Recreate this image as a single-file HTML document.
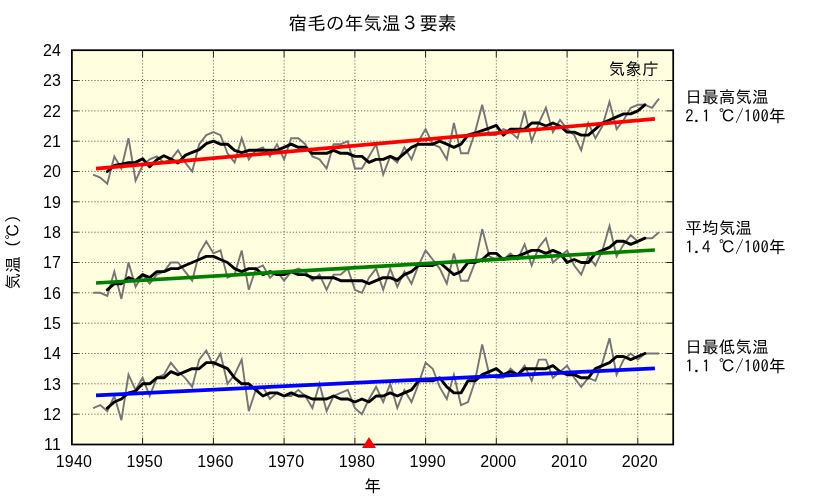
<!DOCTYPE html>
<html lang="ja"><head><meta charset="utf-8"><title>宿毛の年気温３要素</title>
<style>html,body{margin:0;padding:0;background:#fff}svg{display:block}.num{font-family:"Liberation Sans",sans-serif;font-size:16px;letter-spacing:0.15px;fill:#000}.jp{font-family:"Liberation Sans","IPAGothic","Noto Sans CJK JP",sans-serif;font-size:16.7px;fill:#000}.lg{font-family:"IPAGothic","Liberation Mono","Noto Sans CJK JP",monospace;font-size:16.7px;fill:#000}</style></head><body>
<svg width="833" height="498" viewBox="0 0 833 498">
<rect width="833" height="498" fill="#fff"/>
<rect x="71.9" y="50.2" width="601.3" height="394.3" fill="#ffffe0"/>
<path d="M78.9 414.2H666.2M78.9 383.8H666.2M78.9 353.5H666.2M78.9 323.2H666.2M78.9 292.8H666.2M78.9 262.5H666.2M78.9 232.2H666.2M78.9 201.8H666.2M78.9 171.5H666.2M78.9 141.2H666.2M78.9 110.9H666.2M78.9 80.5H666.2M142.6 57.2V437.5M213.4 57.2V437.5M284.1 57.2V437.5M354.9 57.2V437.5M425.6 57.2V437.5M496.3 57.2V437.5M567.1 57.2V437.5M637.8 57.2V437.5" stroke="#000" stroke-width="0.8" stroke-dasharray="1.1 2" fill="none" opacity="0.8"/>
<path d="M71.9 414.2h6.8M673.2 414.2h-6.8M71.9 383.8h6.8M673.2 383.8h-6.8M71.9 353.5h6.8M673.2 353.5h-6.8M71.9 323.2h6.8M673.2 323.2h-6.8M71.9 292.8h6.8M673.2 292.8h-6.8M71.9 262.5h6.8M673.2 262.5h-6.8M71.9 232.2h6.8M673.2 232.2h-6.8M71.9 201.8h6.8M673.2 201.8h-6.8M71.9 171.5h6.8M673.2 171.5h-6.8M71.9 141.2h6.8M673.2 141.2h-6.8M71.9 110.9h6.8M673.2 110.9h-6.8M71.9 80.5h6.8M673.2 80.5h-6.8M142.6 50.2v6.8M142.6 444.5v-6.8M213.4 50.2v6.8M213.4 444.5v-6.8M284.1 50.2v6.8M284.1 444.5v-6.8M354.9 50.2v6.8M354.9 444.5v-6.8M425.6 50.2v6.8M425.6 444.5v-6.8M496.3 50.2v6.8M496.3 444.5v-6.8M567.1 50.2v6.8M567.1 444.5v-6.8M637.8 50.2v6.8M637.8 444.5v-6.8" stroke="#000" stroke-width="0.9" fill="none"/>
<polyline points="93.1,174.6 100.2,177.6 107.3,183.7 114.3,156.4 121.4,168.5 128.5,138.2 135.6,180.6 142.6,165.5 149.7,159.4 156.8,156.4 163.9,162.4 170.9,159.4 178.0,150.3 185.1,162.4 192.2,171.5 199.2,144.2 206.3,135.1 213.4,132.1 220.5,135.1 227.5,153.3 234.6,162.4 241.7,138.2 248.8,159.4 255.8,150.3 262.9,147.3 270.0,156.4 277.0,144.2 284.1,159.4 291.2,138.2 298.3,138.2 305.3,144.2 312.4,156.4 319.5,159.4 326.6,168.5 333.6,144.2 340.7,144.2 347.8,141.2 354.9,168.5 361.9,168.5 369.0,156.4 376.1,144.2 383.2,174.6 390.2,156.4 397.3,162.4 404.4,147.3 411.5,159.4 418.5,141.2 425.6,129.1 432.7,144.2 439.7,147.3 446.8,159.4 453.9,123.0 461.0,153.3 468.0,153.3 475.1,132.1 482.2,104.8 489.3,135.1 496.3,135.1 503.4,129.1 510.5,132.1 517.6,138.2 524.6,110.9 531.7,141.2 538.8,123.0 545.9,107.8 552.9,132.1 560.0,120.0 567.1,129.1 574.2,135.1 581.2,150.3 588.3,123.0 595.4,138.2 602.4,126.0 609.5,101.8 616.6,129.1 623.7,120.0 630.7,107.8 637.8,104.8 644.9,104.8 652.0,107.8 659.0,98.7" fill="none" stroke="#757575" stroke-width="1.9" stroke-linejoin="miter" stroke-linecap="butt"/>
<polyline points="93.1,292.8 100.2,292.8 107.3,295.9 114.3,271.6 121.4,298.9 128.5,262.5 135.6,286.8 142.6,274.6 149.7,283.7 156.8,274.6 163.9,271.6 170.9,262.5 178.0,262.5 185.1,271.6 192.2,280.7 199.2,253.4 206.3,241.3 213.4,253.4 220.5,250.4 227.5,277.7 234.6,274.6 241.7,250.4 248.8,289.8 255.8,268.6 262.9,265.5 270.0,277.7 277.0,271.6 284.1,280.7 291.2,271.6 298.3,268.6 305.3,271.6 312.4,280.7 319.5,274.6 326.6,289.8 333.6,274.6 340.7,274.6 347.8,268.6 354.9,289.8 361.9,292.8 369.0,277.7 376.1,268.6 383.2,289.8 390.2,268.6 397.3,286.8 404.4,271.6 411.5,283.7 418.5,265.5 425.6,250.4 432.7,259.5 439.7,268.6 446.8,283.7 453.9,253.4 461.0,280.7 468.0,280.7 475.1,262.5 482.2,229.1 489.3,256.4 496.3,259.5 503.4,259.5 510.5,253.4 517.6,259.5 524.6,244.3 531.7,265.5 538.8,247.3 545.9,238.2 552.9,262.5 560.0,256.4 567.1,250.4 574.2,265.5 581.2,274.6 588.3,256.4 595.4,265.5 602.4,250.4 609.5,226.1 616.6,256.4 623.7,244.3 630.7,235.2 637.8,241.3 644.9,238.2 652.0,238.2 659.0,232.2" fill="none" stroke="#757575" stroke-width="1.9" stroke-linejoin="miter" stroke-linecap="butt"/>
<polyline points="93.1,408.1 100.2,405.1 107.3,411.1 114.3,396.0 121.4,420.2 128.5,374.7 135.6,389.9 142.6,377.8 149.7,396.0 156.8,377.8 163.9,374.7 170.9,362.6 178.0,371.7 185.1,377.8 192.2,386.9 199.2,359.6 206.3,350.5 213.4,365.6 220.5,353.5 227.5,383.8 234.6,374.7 241.7,359.6 248.8,411.1 255.8,389.9 262.9,386.9 270.0,399.0 277.0,392.9 284.1,396.0 291.2,396.0 298.3,389.9 305.3,396.0 312.4,408.1 319.5,383.8 326.6,411.1 333.6,396.0 340.7,392.9 347.8,389.9 354.9,408.1 361.9,414.2 369.0,399.0 376.1,386.9 383.2,402.0 390.2,383.8 397.3,408.1 404.4,389.9 411.5,402.0 418.5,383.8 425.6,362.6 432.7,368.7 439.7,386.9 446.8,399.0 453.9,374.7 461.0,405.1 468.0,402.0 475.1,380.8 482.2,344.4 489.3,374.7 496.3,377.8 503.4,377.8 510.5,368.7 517.6,374.7 524.6,365.6 531.7,380.8 538.8,359.6 545.9,359.6 552.9,377.8 560.0,371.7 567.1,365.6 574.2,377.8 581.2,386.9 588.3,377.8 595.4,380.8 602.4,362.6 609.5,338.3 616.6,374.7 623.7,359.6 630.7,353.5 637.8,359.6 644.9,353.5 652.0,353.5 659.0,353.5" fill="none" stroke="#757575" stroke-width="1.9" stroke-linejoin="miter" stroke-linecap="butt"/>
<polyline points="107.3,171.5 114.3,165.5 121.4,164.2 128.5,162.7 135.6,162.4 142.6,158.8 149.7,166.7 156.8,159.7 163.9,155.7 170.9,159.1 178.0,163.0 185.1,155.4 192.2,152.4 199.2,149.7 206.3,143.6 213.4,141.2 220.5,144.2 227.5,144.2 234.6,150.3 241.7,152.7 248.8,150.3 255.8,150.3 262.9,150.3 270.0,150.3 277.0,150.3 284.1,147.3 291.2,144.2 298.3,147.3 305.3,147.3 312.4,153.3 319.5,153.3 326.6,153.3 333.6,150.3 340.7,153.3 347.8,153.3 354.9,156.4 361.9,156.4 369.0,162.4 376.1,159.4 383.2,159.4 390.2,156.4 397.3,159.4 404.4,153.3 411.5,147.3 418.5,144.2 425.6,144.2 432.7,144.2 439.7,141.2 446.8,144.2 453.9,147.3 461.0,144.2 468.0,135.1 475.1,133.0 482.2,130.6 489.3,128.1 496.3,125.4 503.4,135.1 510.5,129.1 517.6,129.1 524.6,129.1 531.7,123.0 538.8,123.0 545.9,126.0 552.9,123.0 560.0,126.0 567.1,132.1 574.2,132.1 581.2,135.1 588.3,135.1 595.4,129.1 602.4,123.0 609.5,120.0 616.6,116.9 623.7,113.9 630.7,113.9 637.8,110.9 644.9,104.8" fill="none" stroke="#000" stroke-width="2.9" stroke-linejoin="round" stroke-linecap="round"/>
<polyline points="107.3,289.8 114.3,283.7 121.4,283.7 128.5,277.7 135.6,280.7 142.6,274.6 149.7,277.7 156.8,271.6 163.9,271.6 170.9,268.6 178.0,268.6 185.1,265.5 192.2,262.5 199.2,259.5 206.3,256.4 213.4,256.4 220.5,259.5 227.5,262.5 234.6,268.6 241.7,271.6 248.8,268.6 255.8,268.6 262.9,274.6 270.0,271.6 277.0,274.6 284.1,274.6 291.2,271.6 298.3,274.6 305.3,274.6 312.4,277.7 319.5,277.7 326.6,277.7 333.6,277.7 340.7,280.7 347.8,280.7 354.9,280.7 361.9,280.7 369.0,283.7 376.1,280.7 383.2,277.7 390.2,277.7 397.3,280.7 404.4,274.6 411.5,271.6 418.5,265.5 425.6,265.5 432.7,265.5 439.7,262.5 446.8,268.6 453.9,274.6 461.0,271.6 468.0,262.5 475.1,262.5 482.2,259.5 489.3,253.4 496.3,253.4 503.4,259.5 510.5,256.4 517.6,256.4 524.6,253.4 531.7,250.4 538.8,250.4 545.9,253.4 552.9,250.4 560.0,253.4 567.1,262.5 574.2,259.5 581.2,262.5 588.3,262.5 595.4,253.4 602.4,250.4 609.5,247.3 616.6,241.3 623.7,241.3 630.7,244.3 637.8,241.3 644.9,238.2" fill="none" stroke="#000" stroke-width="2.9" stroke-linejoin="round" stroke-linecap="round"/>
<polyline points="107.3,408.1 114.3,402.0 121.4,399.0 128.5,392.9 135.6,391.1 142.6,383.8 149.7,383.8 156.8,377.8 163.9,377.8 170.9,371.7 178.0,374.7 185.1,371.7 192.2,368.7 199.2,368.7 206.3,362.6 213.4,362.6 220.5,365.6 227.5,368.7 234.6,377.8 241.7,383.8 248.8,383.8 255.8,389.9 262.9,396.0 270.0,392.9 277.0,392.9 284.1,396.0 291.2,392.9 298.3,396.0 305.3,396.0 312.4,399.0 319.5,399.0 326.6,399.0 333.6,396.0 340.7,399.0 347.8,399.0 354.9,402.0 361.9,399.0 369.0,402.0 376.1,396.0 383.2,396.0 390.2,392.9 397.3,396.0 404.4,392.9 411.5,389.9 418.5,380.8 425.6,380.8 432.7,380.8 439.7,377.8 446.8,386.9 453.9,392.9 461.0,392.9 468.0,380.8 475.1,380.8 482.2,374.7 489.3,371.7 496.3,368.7 503.4,374.7 510.5,371.7 517.6,374.7 524.6,368.7 531.7,368.7 538.8,368.7 545.9,368.7 552.9,365.6 560.0,371.7 567.1,374.7 574.2,374.7 581.2,377.8 588.3,377.8 595.4,368.7 602.4,365.6 609.5,362.6 616.6,356.5 623.7,356.5 630.7,359.6 637.8,356.5 644.9,353.5" fill="none" stroke="#000" stroke-width="2.9" stroke-linejoin="round" stroke-linecap="round"/>
<line x1="96.0" y1="168.7" x2="654.9" y2="118.9" stroke="#ff0000" stroke-width="3.7" stroke-linecap="butt"/>
<line x1="96.0" y1="283.0" x2="654.9" y2="250.0" stroke="#008000" stroke-width="3.7" stroke-linecap="butt"/>
<line x1="96.0" y1="395.3" x2="654.9" y2="368.3" stroke="#0000ff" stroke-width="3.7" stroke-linecap="butt"/>
<rect x="71.9" y="50.2" width="601.3" height="394.3" fill="none" stroke="#000" stroke-width="1.75"/>
<polygon points="369,437 362,448 376,448" fill="#ff0000"/>
<text class="num" x="61" y="450.3" text-anchor="end">11</text>
<text class="num" x="61" y="420.0" text-anchor="end">12</text>
<text class="num" x="61" y="389.6" text-anchor="end">13</text>
<text class="num" x="61" y="359.3" text-anchor="end">14</text>
<text class="num" x="61" y="329.0" text-anchor="end">15</text>
<text class="num" x="61" y="298.6" text-anchor="end">16</text>
<text class="num" x="61" y="268.3" text-anchor="end">17</text>
<text class="num" x="61" y="238.0" text-anchor="end">18</text>
<text class="num" x="61" y="207.6" text-anchor="end">19</text>
<text class="num" x="61" y="177.3" text-anchor="end">20</text>
<text class="num" x="61" y="147.0" text-anchor="end">21</text>
<text class="num" x="61" y="116.7" text-anchor="end">22</text>
<text class="num" x="61" y="86.3" text-anchor="end">23</text>
<text class="num" x="61" y="56.0" text-anchor="end">24</text>
<text class="num" x="73.9" y="467" text-anchor="middle">1940</text>
<text class="num" x="144.6" y="467" text-anchor="middle">1950</text>
<text class="num" x="215.4" y="467" text-anchor="middle">1960</text>
<text class="num" x="286.1" y="467" text-anchor="middle">1970</text>
<text class="num" x="356.9" y="467" text-anchor="middle">1980</text>
<text class="num" x="427.6" y="467" text-anchor="middle">1990</text>
<text class="num" x="498.3" y="467" text-anchor="middle">2000</text>
<text class="num" x="569.1" y="467" text-anchor="middle">2010</text>
<text class="num" x="639.8" y="467" text-anchor="middle">2020</text>
<text class="jp" x="372.5" y="30" text-anchor="middle" style="font-size:18.67px;fill:#000">宿毛の年気温３要素</text>
<text class="jp" x="372.5" y="492" text-anchor="middle">年</text>
<text class="jp" transform="translate(18.6,248) rotate(-90)" text-anchor="middle">気温（℃）</text>
<text class="jp" x="658.6" y="75.3" text-anchor="end">気象庁</text>
<text class="lg" x="685.3" y="102.5">日最高気温</text>
<text class="lg" x="685.3" y="122.2" xml:space="preserve">2.1 ℃/100年</text>
<text class="lg" x="685.3" y="234">平均気温</text>
<text class="lg" x="685.3" y="253" xml:space="preserve">1.4 ℃/100年</text>
<text class="lg" x="685.3" y="352.8">日最低気温</text>
<text class="lg" x="685.3" y="371.8" xml:space="preserve">1.1 ℃/100年</text>
</svg></body></html>
